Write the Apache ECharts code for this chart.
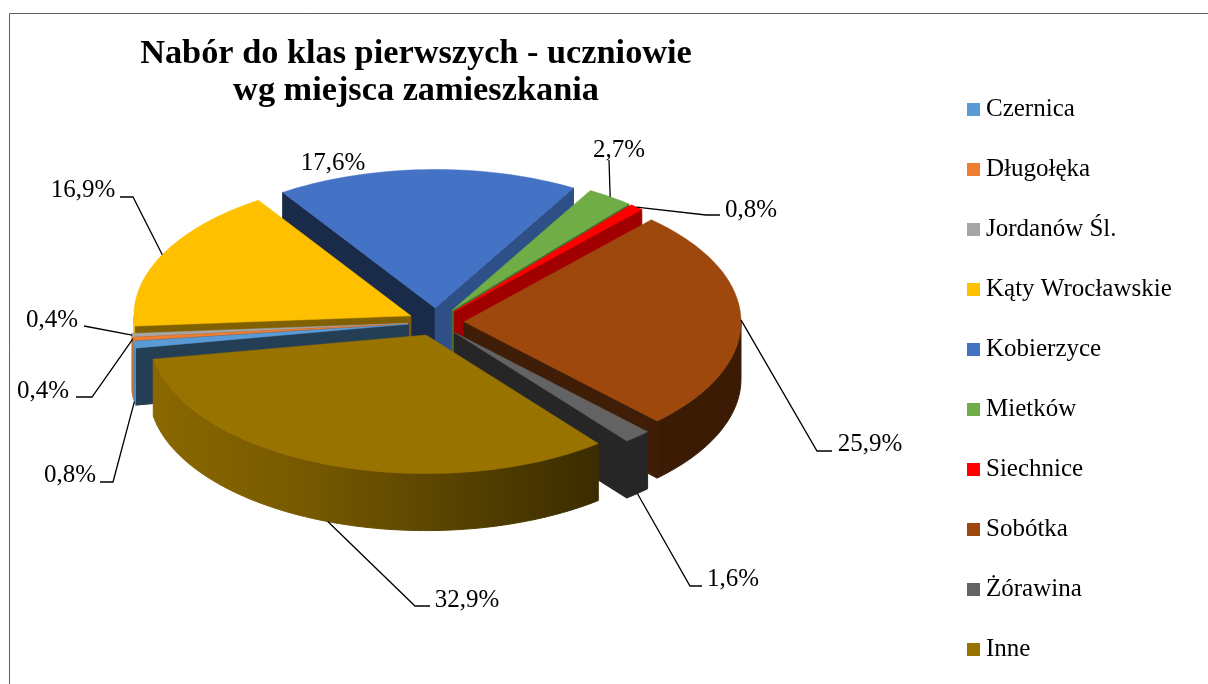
<!DOCTYPE html>
<html>
<head>
<meta charset="utf-8">
<style>html,body{margin:0;padding:0;background:#fff}#c{width:1208px;height:684px}</style>
<script src="https://cdn.jsdelivr.net/npm/echarts@6/dist/echarts.min.js"></script>
</head>
<body>
<div id="c"></div>
<script>
const categories = ['Czernica','Długołęka','Jordanów Śl.','Kąty Wrocławskie','Kobierzyce','Mietków','Siechnice','Sobótka','Żórawina','Inne'];
const values = [0.8,0.4,0.4,16.9,17.6,2.7,0.8,25.9,1.6,32.9];
const colors = ['#5b9bd5','#ed7d31','#a5a5a5','#ffc000','#4472c4','#70ad47','#ff0000','#9e480e','#636363','#997300'];
const startFaceShade = [0.40,0.40,0.40,0.50,0.38,0.6,0.6,0.4,0.4,0.4];
const endFaceShade = [0.4,0.4,0.4,0.4,0.69,0.63,0.63,0.4,0.385,0.4];

// projection of the tilted pie
const CX = 436, CY = 322, R = 277, TILT = 0.5, DEPTH = 57, EXPLODE = 28, FIRST_ANGLE = 260;
// leader layout after the rim anchor: list of bend points, then text centre
const leaderBends = [
  [[113,482],[100,482]],
  [[92,397],[76,397]],
  [[84,326]],
  [[133,197],[120,197]],
  [],
  [[609,160]],
  [[706,215],[720,215]],
  [[817,451],[832,451]],
  [[690,586],[702,586]],
  [[415,606],[430,606]]
];
const labelCentres = [[70,475],[43,391],[52,320],[83,190],[333,163],[619,150],[751,210],[870,444],[733,579],[467,600]];
// whether the leader leaves from the lower edge of the outer wall
const leaderFromLowerEdge = [true,false,false,false,false,false,false,false,true,true];

const rad = d => d * Math.PI / 180;
const total = values.reduce((a, b) => a + b, 0);
const slices = [];
let acc = FIRST_ANGLE;
values.forEach((v, i) => {
  const a = acc, b = acc + v / total * 360;
  acc = b;
  const m = (a + b) / 2;
  const ox = CX + EXPLODE * Math.sin(rad(m));
  const oy = CY - EXPLODE * TILT * Math.cos(rad(m));
  slices.push({ i, a, b, m, ox, oy });
});
const rimPoint = (s, deg, drop) => [
  s.ox + R * Math.sin(rad(deg)),
  s.oy - R * TILT * Math.cos(rad(deg)) + (drop || 0)
];
const arcPoints = (s, from, to, drop) => {
  const pts = [], n = Math.max(2, Math.ceil((to - from) / 1.5));
  for (let k = 0; k <= n; k++) pts.push(rimPoint(s, from + (to - from) * k / n, drop));
  return pts;
};
const shadeColor = (hex, f) => {
  const n = parseInt(hex.slice(1), 16);
  const c = [(n >> 16) & 255, (n >> 8) & 255, n & 255].map(v => Math.round(v * f));
  return 'rgb(' + c.join(',') + ')';
};
const rimFill = hex => new echarts.graphic.LinearGradient(153, 0, 600, 0, [
  { offset: 0, color: shadeColor(hex, 0.9) },
  { offset: 0.33, color: shadeColor(hex, 0.78) },
  { offset: 0.66, color: shadeColor(hex, 0.58) },
  { offset: 1, color: shadeColor(hex, 0.38) }
], true);
const poly = (points, fill, z2, lineWidth) => ({
  type: 'polygon', z2,
  shape: { points },
  style: { fill, stroke: fill, lineWidth }
});
const frontFacing = normalDeg => Math.cos(rad(normalDeg)) < 0;

function sliceChildren(s) {
  const col = colors[s.i], out = [];
  const o = [s.ox, s.oy], oLow = [s.ox, s.oy + DEPTH];
  if (frontFacing(s.a - 90)) {
    const p = rimPoint(s, s.a);
    out.push(poly([o, p, [p[0], p[1] + DEPTH], oLow], shadeColor(col, startFaceShade[s.i]), 1, 1));
  }
  if (frontFacing(s.b + 90)) {
    const p = rimPoint(s, s.b);
    out.push(poly([o, p, [p[0], p[1] + DEPTH], oLow], shadeColor(col, endFaceShade[s.i]), 1, 1));
  }
  // visible outer wall = the part of the arc on the near half (90..270 on the clock)
  [[90, 270], [450, 630]].forEach(([lo, hi]) => {
    const from = Math.max(s.a, lo), to = Math.min(s.b, hi);
    if (to > from) {
      const top = arcPoints(s, from, to, 0), low = arcPoints(s, from, to, DEPTH).reverse();
      out.push(poly(top.concat(low), rimFill(col), 2, 1));
    }
  });
  out.push(poly([o].concat(arcPoints(s, s.a, s.b, 0)), col, 3, 0.5));
  return out;
}

// back-to-front painting order
const backDistance = s => {
  const d = ((s.m % 360) + 360) % 360;
  return d > 180 ? 360 - d : d;
};
const order = slices.slice().sort((p, q) => backDistance(p) - backDistance(q));

const sliceSeries = order.map(s => ({
  type: 'custom',
  name: categories[s.i],
  coordinateSystem: 'none',
  silent: true,
  animation: false,
  itemStyle: { color: colors[s.i] },
  data: [values[s.i]],
  renderItem: () => ({ type: 'group', children: sliceChildren(s) })
}));

const LABEL_FONT = '"Liberation Serif", serif';
const labelSeries = {
  type: 'custom',
  coordinateSystem: 'none',
  silent: true,
  animation: false,
  z: 20,
  data: values,
  renderItem: (params) => {
    const s = slices[params.dataIndex], kids = [];
    const bends = leaderBends[s.i], centre = labelCentres[s.i];
    if (bends.length) {
      const start = rimPoint(s, s.m, leaderFromLowerEdge[s.i] ? DEPTH : 0);
      kids.push({
        type: 'polyline',
        shape: { points: [start].concat(bends) },
        style: { fill: 'none', stroke: '#000', lineWidth: 1.3 }
      });
    }
    kids.push({
      type: 'text',
      style: {
        x: centre[0], y: centre[1],
        text: values[s.i].toFixed(1).replace('.', ',') + '%',
        fill: '#000', font: '25px ' + LABEL_FONT, align: 'center', verticalAlign: 'middle'
      }
    });
    return { type: 'group', children: kids };
  }
};

const chart = echarts.init(document.getElementById('c'));
chart.setOption({
  backgroundColor: '#fff',
  animation: false,
  title: {
    text: 'Nabór do klas pierwszych - uczniowie\nwg miejsca zamieszkania',
    left: 416, top: 36, padding: 0, textAlign: 'center',
    textStyle: { fontFamily: LABEL_FONT, fontWeight: 'bold', fontSize: 34.3, lineHeight: 37, color: '#000' }
  },
  legend: {
    orient: 'vertical', left: 967, top: 97, padding: 0,
    data: categories,
    icon: 'rect', itemWidth: 13, itemHeight: 13, itemGap: 35, selectedMode: false,
    textStyle: { fontFamily: LABEL_FONT, fontSize: 25, color: '#000', padding: [0, 0, 0, 1], height: 23, lineHeight: 23 }
  },
  graphic: [{
    type: 'rect', silent: true, z: 0,
    shape: { x: 9.5, y: 13.5, width: 1300, height: 800 },
    style: { fill: 'none', stroke: '#5f5f5f', lineWidth: 1 }
  }],
  series: sliceSeries.concat([labelSeries])
});
</script>
</body>
</html>
